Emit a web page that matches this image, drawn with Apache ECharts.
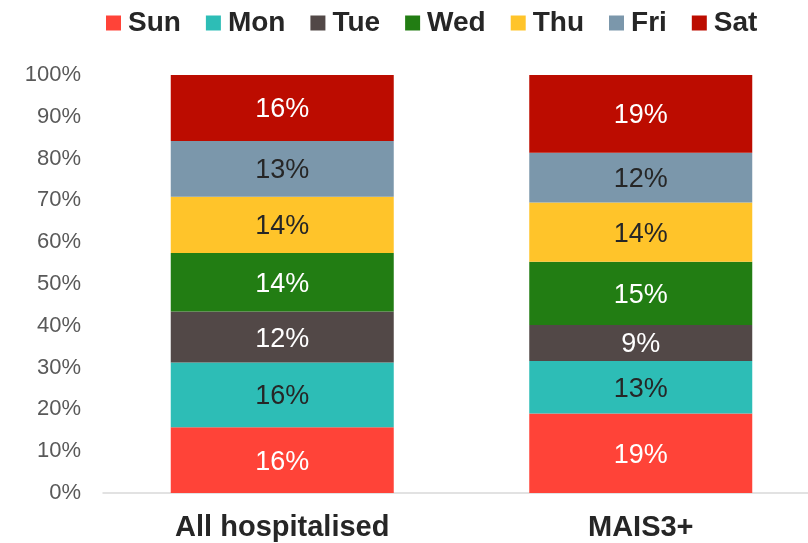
<!DOCTYPE html>
<html>
<head>
<meta charset="utf-8">
<script src="https://cdn.jsdelivr.net/npm/echarts@6/dist/echarts.min.js"></script>
<style>
  html, body { margin: 0; padding: 0; background: #fff; }
  #chart { width: 808px; height: 543px; }
</style>
</head>
<body>
<div id="chart"></div>
<script>
// share of cases by weekday, per group (%)
var categories = ['All hospitalised', 'MAIS3+'];
var days = ['Sun', 'Mon', 'Tue', 'Wed', 'Thu', 'Fri', 'Sat'];
var sun = [15.7, 19.0];
var mon = [15.5, 12.6];
var tue = [12.2, 8.6];
var wed = [14.0, 15.1];
var thu = [13.5, 14.2];
var fri = [13.3, 11.9];
var sat = [15.8, 18.6];
var yTicks = [0, 10, 20, 30, 40, 50, 60, 70, 80, 90, 100];

var values = [sun, mon, tue, wed, thu, fri, sat];
var colors = ['#FF4338', '#2DBDB6', '#524847', '#227D13', '#FFC42A', '#7B97AB', '#BC0C00'];
var labelColors = ['#fff', '#262626', '#fff', '#fff', '#262626', '#262626', '#fff'];

function run() {
    var chart = echarts.init(document.getElementById('chart'));

    var series = days.map(function (d, i) {
        return {
            name: d,
            type: 'bar',
            stack: 'all',
            barWidth: 223,
            data: values[i],
            itemStyle: { color: colors[i] },
            label: {
                show: true,
                position: 'inside',
                offset: [0, 2],
                color: labelColors[i],
                fontSize: 27,
                fontFamily: 'Liberation Sans',
                formatter: function (p) { return Math.round(p.value) + '%'; }
            }
        };
    });

    chart.setOption({
        animation: false,
        textStyle: { fontFamily: 'Liberation Sans' },
        legend: {
            data: days,
            left: 106,
            top: 9,
            padding: 0,
            itemWidth: 15,
            itemHeight: 15,
            itemGap: 25,
            icon: 'rect',
            textStyle: {
                fontSize: 28,
                fontWeight: 'bold',
                color: '#262626',
                padding: [0, 0, 0, 2]
            }
        },
        grid: { left: 103, right: -12, top: 75, bottom: 50, outerBoundsMode: 'none' },
        xAxis: {
            type: 'category',
            data: categories,
            axisLine: { lineStyle: { color: '#d9d9d9', width: 1.5 } },
            axisTick: { show: false },
            axisLabel: {
                fontSize: 29,
                fontWeight: 'bold',
                color: '#262626',
                margin: 20
            }
        },
        yAxis: {
            type: 'value',
            min: yTicks[0],
            max: yTicks[yTicks.length - 1],
            interval: 10,
            splitLine: { show: false },
            axisLine: { show: false },
            axisTick: { show: false },
            axisLabel: {
                fontSize: 22,
                color: '#595959',
                margin: 22,
                formatter: '{value}%'
            }
        },
        series: series
    });
}

if (document.readyState !== 'loading') {
    run();
} else {
    document.addEventListener('DOMContentLoaded', run);
}
</script>
</body>
</html>
